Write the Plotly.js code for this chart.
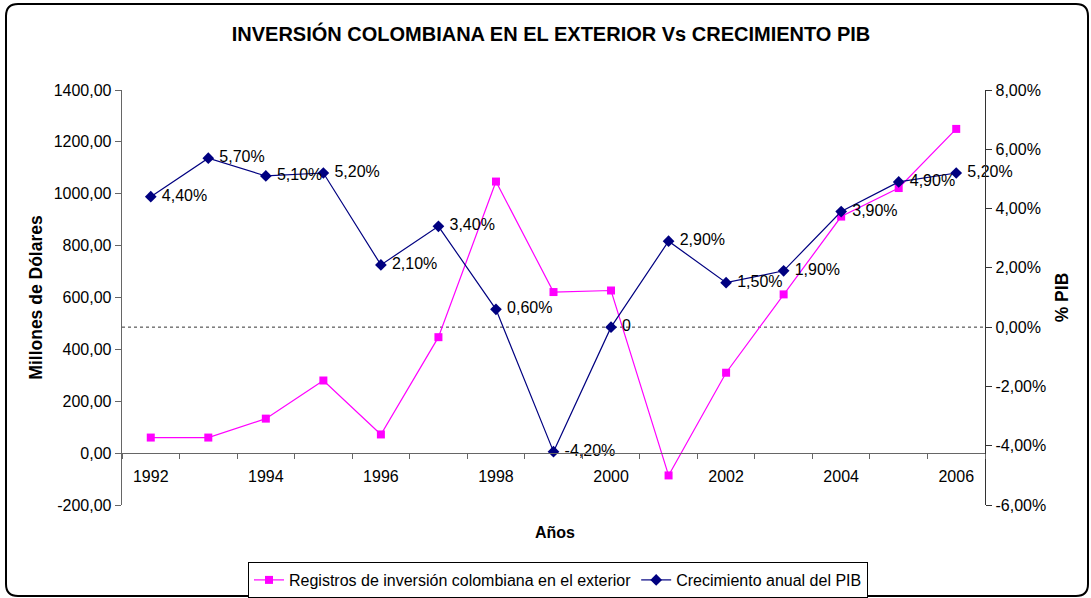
<!DOCTYPE html>
<html>
<head>
<meta charset="utf-8">
<script src="https://cdn.plot.ly/plotly-3.0.1.min.js"></script>
<style>html,body{margin:0;padding:0;background:#fff;}#chart{width:1091px;height:598px;}</style>
</head>
<body>
<div id="chart"></div>
<script>
// ---- data ----
const years = [1992,1993,1994,1995,1996,1997,1998,1999,2000,2001,2002,2003,2004,2005,2006];
const inversion = [60,60,133,280,72,447,1047,621,627,-86,310,612,912,1022,1250];
const pibGrowth = [4.4,5.7,5.1,5.2,2.1,3.4,0.6,-4.2,0,2.9,1.5,1.9,3.9,4.9,5.2];
const xTickYears = [1992,1994,1996,1998,2000,2002,2004,2006];
const xTickLabels = ['1992','1994','1996','1998','2000','2002','2004','2006'];
const leftTickVals = [-200,0,200,400,600,800,1000,1200,1400];
const leftTickLabels = ['-200,00','0,00','200,00','400,00','600,00','800,00','1000,00','1200,00','1400,00'];
const rightTickVals = [-6,-4,-2,0,2,4,6,8];
const rightTickLabels = ['-6,00%','-4,00%','-2,00%','0,00%','2,00%','4,00%','6,00%','8,00%'];
const seriesNames = ['Registros de inversión colombiana en el exterior','Crecimiento anual del PIB'];
const titleText = 'INVERSIÓN COLOMBIANA EN EL EXTERIOR Vs CRECIMIENTO PIB';

const pibLabels = pibGrowth.map(v => ' ' + (v === 0 ? '0' : v.toFixed(2).replace('.', ',') + '%'));

const FONT = '"Liberation Sans", Arial, sans-serif';

// layout geometry (pixels)
const W = 1091, H = 598;
const L = 122, R = 985, T = 90, B = 505;
const pw = R - L, ph = B - T;
const px = x => (x - L) / pw;
const py = y => (B - y) / ph;

// rounded outer border path in paper coords
const bx0 = 6, by0 = 4, bx1 = 1088, by1 = 596, rad = 12;
const borderPath = [
  'M', px(bx0 + rad), py(by0),
  'L', px(bx1 - rad), py(by0),
  'Q', px(bx1), py(by0), px(bx1), py(by0 + rad),
  'L', px(bx1), py(by1 - rad),
  'Q', px(bx1), py(by1), px(bx1 - rad), py(by1),
  'L', px(bx0 + rad), py(by1),
  'Q', px(bx0), py(by1), px(bx0), py(by1 - rad),
  'L', px(bx0), py(by0 + rad),
  'Q', px(bx0), py(by0), px(bx0 + rad), py(by0),
  'Z'
].join(' ');

const traces = [
  {
    x: years, y: inversion, name: seriesNames[0], type: 'scatter', mode: 'lines+markers',
    line: {color: '#FF00FF', width: 1.2},
    marker: {symbol: 'square', size: 8, color: '#FF00FF'},
    yaxis: 'y'
  },
  {
    x: years, y: pibGrowth, name: seriesNames[1], type: 'scatter', mode: 'lines+markers+text',
    text: pibLabels, textposition: 'middle right', cliponaxis: false,
    textfont: {family: FONT, size: 16, color: '#000'},
    line: {color: '#000080', width: 1.2},
    marker: {symbol: 'diamond', size: 9, color: '#000080'},
    yaxis: 'y2'
  }
];

const layout = {
  width: W, height: H,
  margin: {l: L, r: W - R, t: T, b: H - B, pad: 0, autoexpand: false},
  paper_bgcolor: '#fff', plot_bgcolor: 'rgba(0,0,0,0)',
  separators: ',.',
  font: {family: FONT, size: 16, color: '#000'},
  title: {text: '<b>' + titleText + '</b>', font: {family: FONT, size: 20, color: '#000'},
          x: 551 / W, xanchor: 'center', y: 1 - 34 / H, yanchor: 'middle'},
  showlegend: true,
  legend: {orientation: 'h', x: px(558), xanchor: 'center', y: py(562), yanchor: 'top',
           bordercolor: '#000', borderwidth: 1, bgcolor: '#fff',
           font: {family: FONT, size: 16, color: '#000'}, traceorder: 'normal',
           itemwidth: 30, tracegroupgap: 0},
  xaxis: {
    type: 'linear', range: [1991.5, 2006.5], anchor: 'free', position: 200 / 1600,
    tickmode: 'array', tickvals: xTickYears, ticktext: xTickLabels,
    ticks: '', showgrid: false, zeroline: false, automargin: false,
    showline: true, linecolor: '#666', linewidth: 1.3, ticklabelstandoff: 8,
    tickfont: {family: FONT, size: 16, color: '#000'},
    minor: {tick0: 1991.5, dtick: 1, ticks: 'outside', ticklen: 5, tickcolor: '#666', showgrid: false}
  },
  yaxis: {
    range: [-200, 1400], tickmode: 'array', tickvals: leftTickVals, ticktext: leftTickLabels,
    automargin: false,
    showgrid: false, zeroline: false, showline: true, linecolor: '#666', linewidth: 1.3,
    ticks: 'outside', ticklen: 6, tickcolor: '#666',
    tickfont: {family: FONT, size: 16, color: '#000'},
    title: {text: '<b>Millones de Dólares</b>', font: {family: FONT, size: 17.5, color: '#000'}, standoff: 6}
  },
  yaxis2: {
    overlaying: 'y', side: 'right', range: [-6, 8],
    tickmode: 'array', tickvals: rightTickVals, ticktext: rightTickLabels,
    automargin: false,
    showgrid: false, zeroline: false, showline: true, linecolor: '#333', linewidth: 1.3,
    ticks: 'outside', ticklen: 6, tickcolor: '#333',
    tickfont: {family: FONT, size: 16, color: '#000'},
    title: {text: '<b>% PIB</b>', font: {family: FONT, size: 17.5, color: '#000'}, standoff: 10}
  },
  shapes: [
    {type: 'line', xref: 'paper', x0: 0, x1: 1, yref: 'y2', y0: 0, y1: 0,
     line: {color: '#333', width: 1, dash: 'dot'}, layer: 'below'},
    {type: 'path', xref: 'paper', yref: 'paper', path: borderPath,
     line: {color: '#000', width: 2}, fillcolor: 'rgba(0,0,0,0)', layer: 'below'}
  ],
  annotations: [
    {text: '<b>Años</b>', xref: 'paper', yref: 'paper', x: px(555), y: py(532),
     xanchor: 'center', yanchor: 'middle', showarrow: false,
     font: {family: FONT, size: 16, color: '#000'}}
  ]
};

Plotly.newPlot('chart', traces, layout, {displayModeBar: false, staticPlot: true});
</script>
</body>
</html>
